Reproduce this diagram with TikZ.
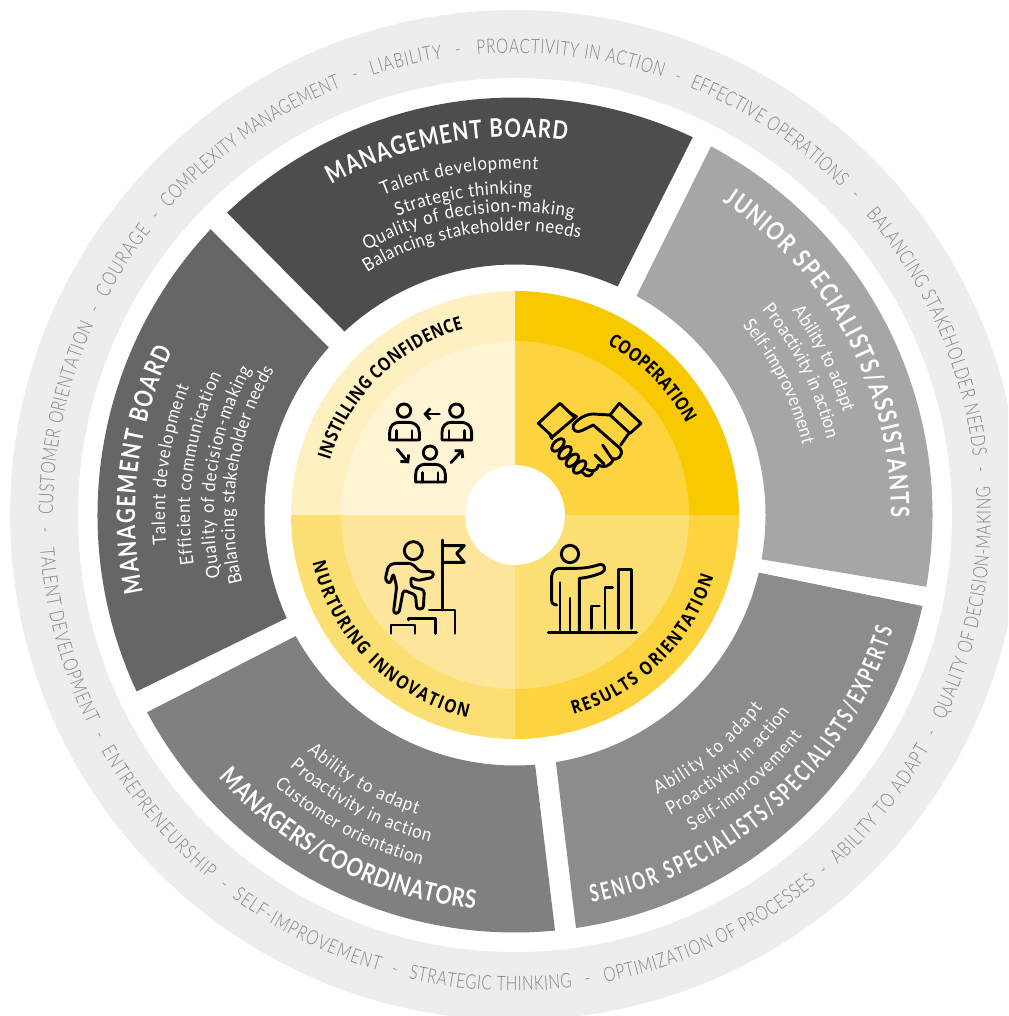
\documentclass[tikz,border=0pt]{standalone}
\usepackage{fontspec}
\usetikzlibrary{decorations.text,arrows.meta}
\newfontfamily\ringfam{Lato Light}[FakeStretch=0.76]
\newfontfamily\bodyfam{Lato}[FakeStretch=0.90]
\newfontfamily\titlefam{Lato Bold}[FakeStretch=0.80]
\newfontfamily\narrowfam{Lato Bold}[FakeStretch=0.68]
\newfontfamily\corefam{Open Sans}[FakeStretch=0.84]
\definecolor{ringbg}{HTML}{ECEEEE}
\definecolor{ringtxt}{HTML}{808080}
\definecolor{segA}{HTML}{4D4D4D}
\definecolor{segB}{HTML}{A6A6A6}
\definecolor{segC}{HTML}{8C8C8C}
\definecolor{segD}{HTML}{808080}
\definecolor{segE}{HTML}{666666}
\definecolor{yA}{HTML}{F9C900}
\definecolor{yB}{HTML}{FDD43F}
\definecolor{yC}{HTML}{FCDF73}
\definecolor{yD}{HTML}{FDE69B}
\definecolor{yE}{HTML}{FEF0C0}
\definecolor{yF}{HTML}{FEF4D3}
\newcommand{\ringf}{\ringfam\fontsize{20}{20}\selectfont\color{ringtxt}}
\newcommand{\bodyf}{\bodyfam\fontsize{18.5}{18.5}\selectfont\color{white}}
\newcommand{\titlef}{\titlefam\fontsize{25.5}{25.5}\selectfont\color{white}}
\newcommand{\narrowf}{\narrowfam\fontsize{24}{24}\selectfont\color{white}}
\newcommand{\coref}{\corefam\bfseries\fontsize{18.5}{18.5}\selectfont\color{black}}
% align, radius, start angle, end angle, format, text
\newcommand{\arcw}[6]{\path[decorate,decoration={text along path,text align={#1},text={|#5|#6}}]
  (#3:#2pt) arc[start angle=#3,end angle=#4,radius=#2pt];}
% colour, outer start, outer end, inner end, inner start
\newcommand{\segm}[5]{\fill[#1] (#2:417.5pt) arc[start angle=#2,end angle=#3,radius=417.5pt]
  -- (#4:250.5pt) arc[start angle=#4,end angle=#5,radius=250.5pt] -- cycle;}
\newcommand{\quadr}[4]{\fill[#1] (0,0) -- (#2:#4pt) arc[start angle=#2,end angle=#3,radius=#4pt] -- cycle;}
\newcommand{\persona}[2]{
  \draw[iconline] (#1,#2) circle[radius=20];
  \draw[iconline] (#1-43,#2+88) -- (#1-43,#2+65) .. controls (#1-43,#2+45) and (#1-30,#2+35) .. (#1-15,#2+35)
    -- (#1+15,#2+35) .. controls (#1+30,#2+35) and (#1+46,#2+45) .. (#1+46,#2+65) -- (#1+46,#2+88) -- cycle;
  \draw[iconline] (#1-22,#2+60) -- (#1-22,#2+88) (#1+24,#2+60) -- (#1+24,#2+88);
}
\tikzset{iconline/.style={draw=black,line width=2.9pt,line cap=round,line join=round},
  arrowline/.style={iconline,-{Straight Barb[length=5pt,width=11pt,line width=2.9pt]}}}
\begin{document}
\begin{tikzpicture}[x=1pt,y=1pt]
\useasboundingbox (-515,-501) rectangle (493,515);
\clip (-515,-501) rectangle (493,515);
% outer ring
\fill[ringbg,even odd rule] (0,0) circle[radius=505pt] (0,0) circle[radius=437pt];
% segments
\segm{segA}{133.6}{64.8}{65.8}{132.9}
\segm{segB}{62}{-9.9}{-10.2}{61}
\segm{segC}{-12.6}{-81.6}{-80.6}{-13.3}
\segm{segD}{-84.5}{-151.8}{-151.1}{-85.4}
\segm{segE}{-155}{-223.2}{-222}{-155.7}
% core
\quadr{yA}{0}{90}{224}
\quadr{yB}{-90}{0}{224}
\quadr{yC}{180}{270}{224}
\quadr{yE}{90}{180}{224}
\quadr{yB}{0}{90}{174}
\quadr{yC}{-90}{0}{174}
\quadr{yD}{180}{270}{174}
\quadr{yF}{90}{180}{174}
\fill[white] (0,0) circle[radius=50pt];
% ring texts, upper half
\arcw{fit to path}{462}{180}{155.7}{\ringf}{CUSTOMER ORIENTATION}
\arcw{fit to path}{462}{152}{142}{\ringf}{COURAGE}
\arcw{fit to path}{462}{138.5}{112.1}{\ringf}{COMPLEXITY MANAGEMENT}
\arcw{fit to path}{462}{108}{99}{\ringf}{LIABILITY}
\arcw{fit to path}{462}{94.7}{71.4}{\ringf}{PROACTIVITY IN ACTION}
\arcw{fit to path}{462}{67.8}{45.2}{\ringf}{EFFECTIVE OPERATIONS}
\arcw{fit to path}{462}{40.6}{7.3}{\ringf}{BALANCING STAKEHOLDER NEEDS}
\arcw{center}{462}{156.9}{150.9}{\ringf}{-}
\arcw{center}{462}{143.2}{137.2}{\ringf}{-}
\arcw{center}{462}{113}{107}{\ringf}{-}
\arcw{center}{462}{100}{94}{\ringf}{-}
\arcw{center}{462}{72.6}{66.6}{\ringf}{-}
\arcw{center}{462}{46.3}{40.3}{\ringf}{-}
\arcw{center}{462}{8.5}{2.5}{\ringf}{-}
% ring texts, lower half
\arcw{fit to path}{476}{184}{206.1}{\ringf}{TALENT DEVELOPMENT}
\arcw{fit to path}{476}{209.6}{230}{\ringf}{ENTREPRENEURSHIP}
\arcw{fit to path}{476}{233.5}{253.4}{\ringf}{SELF-IMPROVEMENT}
\arcw{fit to path}{476}{257.1}{276.9}{\ringf}{STRATEGIC THINKING}
\arcw{fit to path}{476}{280.9}{309.3}{\ringf}{OPTIMIZATION OF PROCESSES}
\arcw{fit to path}{476}{312.7}{330.5}{\ringf}{ABILITY TO ADAPT}
\arcw{fit to path}{476}{334.4}{363.4}{\ringf}{QUALITY OF DECISION-MAKING}
\arcw{center}{476}{178.8}{184.8}{\ringf}{-}
\arcw{center}{476}{204.9}{210.9}{\ringf}{-}
\arcw{center}{476}{228.8}{234.8}{\ringf}{-}
\arcw{center}{476}{252.2}{258.2}{\ringf}{-}
\arcw{center}{476}{275.9}{281.9}{\ringf}{-}
\arcw{center}{476}{308}{314}{\ringf}{-}
\arcw{center}{476}{329.4}{335.4}{\ringf}{-}
% top segment
\arcw{fit to path}{378}{119}{82.1}{\titlef}{MANAGEMENT BOARD}
\arcw{fit to path}{346}{112.4}{86.2}{\bodyf}{Talent development}
\arcw{fit to path}{321}{111.5}{87}{\bodyf}{Strategic thinking}
\arcw{fit to path}{303}{119.3}{78.9}{\bodyf}{Quality of decision-making}
\arcw{fit to path}{284}{121.4}{76.8}{\bodyf}{Balancing stakeholder needs}
% right segment
\arcw{fit to path}{376}{56.5}{-0.3}{\titlef}{JUNIOR SPECIALISTS/ASSISTANTS}
\arcw{fit to path}{344}{36.4}{17.3}{\bodyf}{Ability to adapt}
\arcw{fit to path}{321}{39.7}{13.7}{\bodyf}{Proactivity in action}
\arcw{fit to path}{296}{39.8}{13.7}{\bodyf}{Self-improvement}
% lower right segment
\arcw{fit to path}{395}{281.2}{343.1}{\narrowf}{SENIOR SPECIALISTS/SPECIALISTS/EXPERTS}
\arcw{fit to path}{314}{297}{322.1}{\bodyf}{Ability to adapt}
\arcw{fit to path}{338}{297.3}{324.4}{\bodyf}{Proactivity in action}
\arcw{fit to path}{362}{299.2}{322.5}{\bodyf}{Self-improvement}
% lower left segment
\arcw{fit to path}{396}{221.6}{264.2}{\titlef}{MANAGERS/COORDINATORS}
\arcw{fit to path}{315}{228.7}{251.9}{\bodyf}{Ability to adapt}
\arcw{fit to path}{338}{228.2}{255.4}{\bodyf}{Proactivity in action}
\arcw{fit to path}{362}{228.3}{255}{\bodyf}{Customer orientation}
% left segment
\arcw{fit to path}{380}{191.7}{154.3}{\titlef}{MANAGEMENT BOARD}
\arcw{fit to path}{350}{184.9}{158.5}{\bodyf}{Talent development}
\arcw{fit to path}{325}{188.8}{154.5}{\bodyf}{Efficient communication}
\arcw{fit to path}{301}{191.9}{151.1}{\bodyf}{Quality of decision-making}
\arcw{fit to path}{281}{194}{149}{\bodyf}{Balancing stakeholder needs}
% core texts
\arcw{fit to path}{193}{163.5}{105.5}{\coref}{INSTILLING CONFIDENCE}
\arcw{fit to path}{194}{61.6}{28}{\coref}{COOPERATION}
\arcw{fit to path}{208}{193.3}{256.9}{\coref}{NURTURING INNOVATION}
\arcw{fit to path}{208}{286.3}{342.8}{\coref}{RESULTS ORIENTATION}
% icon: three people
\begin{scope}[xshift=-135pt,yshift=125pt,x=0.3333pt,y=-0.3333pt]
\persona{72}{62}
\persona{229}{62}
\persona{150}{188}
\draw[arrowline] (178,72) -- (130,72);
\draw[arrowline] (52,178) -- (87,220);
\draw[arrowline] (213,218) -- (250,178);
\end{scope}
% icon: handshake
\begin{scope}[xshift=15pt,yshift=125pt,x=0.3333pt,y=-0.3333pt]
\draw[iconline] (25,100) -- (90,40) -- (135,83) -- (68,140) -- cycle;
\draw[iconline] (240,75) -- (268,40) -- (333,100) -- (300,130) -- cycle;
\draw[iconline] (118,68) -- (140,80);
\draw[iconline] (238,75) -- (190,72) .. controls (165,72) and (140,90) .. (130,105)
  .. controls (125,120) and (140,130) .. (155,122) -- (190,105) -- (270,175)
  .. controls (285,195) and (260,215) .. (245,205) -- (218,165);
\draw[iconline] (195,195) -- (222,222);
\draw[iconline] (250,208) .. controls (240,230) and (220,235) .. (205,225);
\draw[iconline] (205,228) .. controls (200,245) and (185,245) .. (170,238);
\draw[iconline] (190,243) .. controls (185,262) and (168,262) .. (158,248);
\draw[iconline] (298,128) -- (272,165);
\draw[iconline] (60,135) -- (66,146);
\foreach \kx/\ky in {84/165,105/188,127/211,149/231}
  \draw[iconline,rotate around={45:(\kx,\ky)}] (\kx,\ky) ellipse[x radius=23,y radius=13];
\end{scope}
% icon: climber and flag
\begin{scope}[xshift=-140pt,yshift=-15pt,x=0.3333pt,y=-0.3333pt]
\draw[iconline] (115,62) circle[radius=27];
\draw[iconline] (202,30) -- (202,240);
\draw[iconline] (202,47) -- (268,47) -- (245,70) -- (268,97) -- (202,97);
\draw[iconline] (163,240) -- (240,240) -- (240,310);
\draw[iconline] (100,270) -- (100,265) -- (182,265) -- (182,310);
\draw[iconline] (48,310) -- (48,285) -- (120,285) -- (120,310);
\draw[iconline,rounded corners=3pt] (55,100) -- (110,100) -- (135,125) -- (175,125) -- (175,142) -- (125,152)
  -- (108,140) -- (108,170) -- (148,180) -- (145,237) -- (125,237) -- (122,195) -- (85,180)
  -- (72,250) -- (55,250) -- (65,170) -- (55,130) -- (45,162) -- (30,150) -- (40,108) -- cycle;
\end{scope}
% icon: person and chart
\begin{scope}[xshift=25pt,yshift=-20pt,x=0.3333pt,y=-0.3333pt]
\draw[iconline] (90,57) circle[radius=26];
\draw[iconline] (25,292) -- (290,292);
\draw[iconline] (235,280) -- (235,103) -- (275,103) -- (275,280);
\draw[iconline] (195,280) -- (195,158) -- (218,158);
\draw[iconline] (155,280) -- (155,213) -- (178,213);
\draw[iconline] (60,143) -- (60,288);
\draw[iconline] (90,190) -- (90,288);
\draw[iconline] (50,210) .. controls (38,208) and (35,205) .. (35,195) -- (35,125)
  .. controls (35,110) and (45,100) .. (60,100) -- (110,100) .. controls (135,100) and (160,95) .. (180,88)
  .. controls (195,85) and (200,108) .. (185,113) .. controls (165,122) and (140,128) .. (118,130) -- (118,288);
\end{scope}
\end{tikzpicture}
\end{document}
